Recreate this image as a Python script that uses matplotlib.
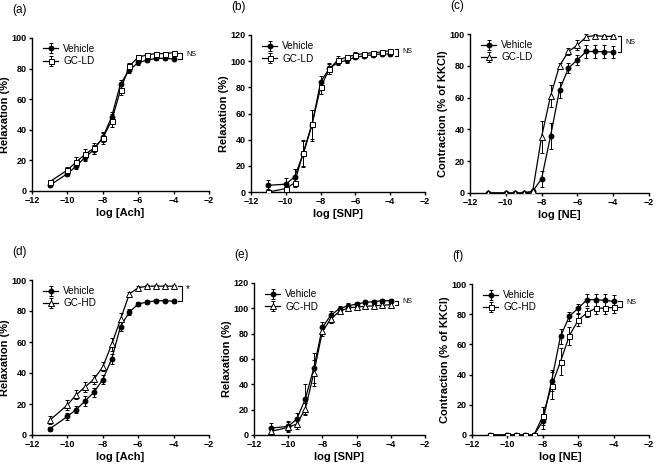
import matplotlib
matplotlib.use("Agg")
import matplotlib.pyplot as plt
import numpy as np

plt.rcParams['font.family'] = ['Liberation Sans', 'DejaVu Sans']

log_conc = [-11, -10, -9.5, -9, -8.5, -8, -7.5, -7, -6.5, -6, -5.5, -5, -4.5, -4]

# (a) Ach, GC-LD
a_veh = [3.7, 11.3, 16.3, 22, 27, 35, 48.6, 70, 79, 84, 85.4, 86.7, 86.7, 86.3]
a_veh_err = [1, 1.5, 2, 2.5, 3, 3, 3, 2.5, 2, 1.5, 1, 1, 1, 1]
a_gc = [6.0, 13.7, 19, 24, 28, 34.6, 46, 66, 81.7, 87.4, 89, 89.8, 89.8, 90.4]
a_gc_err = [1.5, 2, 3, 3.5, 3.5, 4, 4, 3, 2, 1.5, 1, 1, 1, 1]

# (b) SNP, GC-LD
b_veh = [5.1, 6, 11.5, 29, 51, 84, 94.5, 99, 100.6, 103, 104, 105, 105.5, 105.5]
b_veh_err = [4, 5, 6, 10, 12, 5, 4, 2, 2, 1.5, 1.5, 1.5, 1.5, 1.5]
b_gc = [0, 2.6, 7, 30, 51.6, 80, 94, 101, 103, 105, 105.7, 106.5, 107, 108]
b_gc_err = [2, 3, 3, 10, 11, 5, 4, 3, 2, 2, 1.5, 1.5, 1.5, 1.5]

# (c) NE, GC-LD
c_veh = [0, 0, 0, 0, 1, 9, 35.8, 64.8, 78.5, 83.8, 89, 89, 88.8, 88.6]
c_veh_err = [0, 0, 0, 0, 1, 5, 8, 5, 3, 3, 4, 4, 4, 4]
c_gc = [0, 0, 0, 0, 1, 35.4, 61, 80, 89, 93, 98.3, 99, 98.5, 98.5]
c_gc_err = [0, 0, 0, 0, 1, 10, 7, 2, 2, 3, 2, 1, 1, 1]

# (d) Ach, GC-HD
d_veh = [3.9, 12, 16.4, 22, 27.6, 35.8, 49, 70, 79.3, 84.5, 85.8, 86.6, 86.6, 86.4]
d_veh_err = [1, 2, 2.5, 3, 3, 3, 3, 3, 2, 1.5, 1, 1, 1, 1]
d_gc = [9.5, 19.4, 26, 31, 36, 44, 58.4, 74.6, 91, 95, 96, 96, 96, 96]
d_gc_err = [2.5, 3, 3, 3, 3, 3, 4, 4, 1.5, 1, 1, 1, 1, 1]

# (e) SNP, GC-HD
e_veh = [5.5, 6.8, 12.6, 28.4, 52.9, 85, 94.7, 99.7, 102, 103.4, 104.7, 105.3, 106, 106]
e_veh_err = [4, 4, 5, 12, 12, 4, 3, 2, 2, 1.5, 1.5, 1.5, 1.5, 1.5]
e_gc = [2.9, 6, 8.7, 20.5, 49, 81.8, 91.8, 97.6, 100.3, 101, 101.6, 102, 102.4, 102.9]
e_gc_err = [3, 4, 4, 5, 10, 4, 3, 2, 2, 1.5, 1.5, 1.5, 1.5, 1.5]

# (f) NE, GC-HD
f_veh = [0, 0, 0, 0, 0, 9, 36, 65.3, 78.6, 84, 89.6, 89.6, 89.2, 88.5]
f_veh_err = [0, 0, 0, 0, 0, 5, 7, 5, 3, 3, 4, 4, 4, 4]
f_gc = [0, 0, 0, 0, 0, 12.4, 32.7, 48.6, 65.8, 76, 81, 84, 84, 84.5]
f_gc_err = [0, 0, 0, 0, 0, 6, 9, 9, 6, 4, 3, 4, 4, 4]

panels = [
    dict(lab='(a)', veh=a_veh, ve=a_veh_err, gc=a_gc, ge=a_gc_err, gcname='GC-LD', mk='s',
         xl='log [Ach]', yl='Relaxation (%)', ymax=100, sig='NS',
         px=(32, 209, 38, 191)),
    dict(lab='(b)', veh=b_veh, ve=b_veh_err, gc=b_gc, ge=b_gc_err, gcname='GC-LD', mk='s',
         xl='log [SNP]', yl='Relaxation (%)', ymax=120, sig='NS',
         px=(251, 425, 35, 192)),
    dict(lab='(c)', veh=c_veh, ve=c_veh_err, gc=c_gc, ge=c_gc_err, gcname='GC-LD', mk='^',
         xl='log [NE]', yl='Contraction (% of KKCl)', ymax=100, sig='NS',
         px=(470, 649, 34, 193)),
    dict(lab='(d)', veh=d_veh, ve=d_veh_err, gc=d_gc, ge=d_gc_err, gcname='GC-HD', mk='^',
         xl='log [Ach]', yl='Relaxation (%)', ymax=100, sig='*',
         px=(32, 209, 280, 435)),
    dict(lab='(e)', veh=e_veh, ve=e_veh_err, gc=e_gc, ge=e_gc_err, gcname='GC-HD', mk='^',
         xl='log [SNP]', yl='Relaxation (%)', ymax=120, sig='NS',
         px=(254, 425, 283, 435)),
    dict(lab='(f)', veh=f_veh, ve=f_veh_err, gc=f_gc, ge=f_gc_err, gcname='GC-HD', mk='s',
         xl='log [NE]', yl='Contraction (% of KKCl)', ymax=100, sig='NS',
         px=(472, 649, 284, 435)),
]

W, H = 658, 472
fig = plt.figure(figsize=(W / 100, H / 100), dpi=100)

for p in panels:
    l, r, t, b = p['px']
    ax = fig.add_axes([l / W, 1 - b / H, (r - l) / W, (b - t) / H])
    x = np.array(log_conc)
    ax.errorbar(x, p['veh'], yerr=p['ve'], color='black', marker='o', ms=3.2,
                lw=0.9, elinewidth=0.7, capsize=1.3, capthick=0.7,
                mfc='black', mec='black', label='Vehicle', zorder=3)
    ax.errorbar(x, p['gc'], yerr=p['ge'], color='black', marker=p['mk'],
                ms=3.6 if p['mk'] == 's' else 4.0,
                lw=0.9, elinewidth=0.7, capsize=1.3, capthick=0.7,
                mfc='white', mec='black', mew=0.7, label=p['gcname'], zorder=4)
    ax.set_xlim(-12, -2)
    ax.set_ylim(0, p['ymax'])
    ax.set_xticks([-12, -10, -8, -6, -4, -2])
    ax.set_yticks(np.arange(0, p['ymax'] + 1, 20))
    for s in ['top', 'right']:
        ax.spines[s].set_visible(False)
    for s in ['left', 'bottom']:
        ax.spines[s].set_linewidth(1.0)
    ax.tick_params(direction='out', length=2.5, width=1, labelsize=6.5, pad=1.2)
    for lbl in ax.get_xticklabels() + ax.get_yticklabels():
        lbl.set_fontweight('bold')
    ax.set_xlabel(p['xl'], fontsize=8, fontweight='bold', labelpad=2)
    ax.set_ylabel(p['yl'], fontsize=8, fontweight='bold', labelpad=1)
    ax.legend(loc='upper left', frameon=False, fontsize=7.2, handlelength=1.5,
              handletextpad=0.5, labelspacing=0.25, borderaxespad=0.2,
              bbox_to_anchor=(0.03, 1.0))
    # bracket
    y1 = p['veh'][-1]
    y2 = p['gc'][-1]
    lo, hi = min(y1, y2), max(y1, y2)
    if hi - lo < 3:
        hi += 1.5
        lo -= 1.5
    xb = -3.55
    ax.plot([xb - 0.2, xb, xb, xb - 0.2], [lo, lo, hi, hi], color='black', lw=0.8,
            clip_on=False)
    if p['sig'] == '*':
        ax.text(xb + 0.25, hi - 2, '*', fontsize=7, va='center', ha='left')
    else:
        ax.text(xb + 0.25, (lo + hi) / 2 + 1, 'NS', fontsize=5, va='center', ha='left')
    # panel label
    fig.text((l - 20) / W, 1 - (t - 28) / H, p['lab'], fontsize=8.5, va='center', ha='left')

fig.savefig('out.png', dpi=100)
